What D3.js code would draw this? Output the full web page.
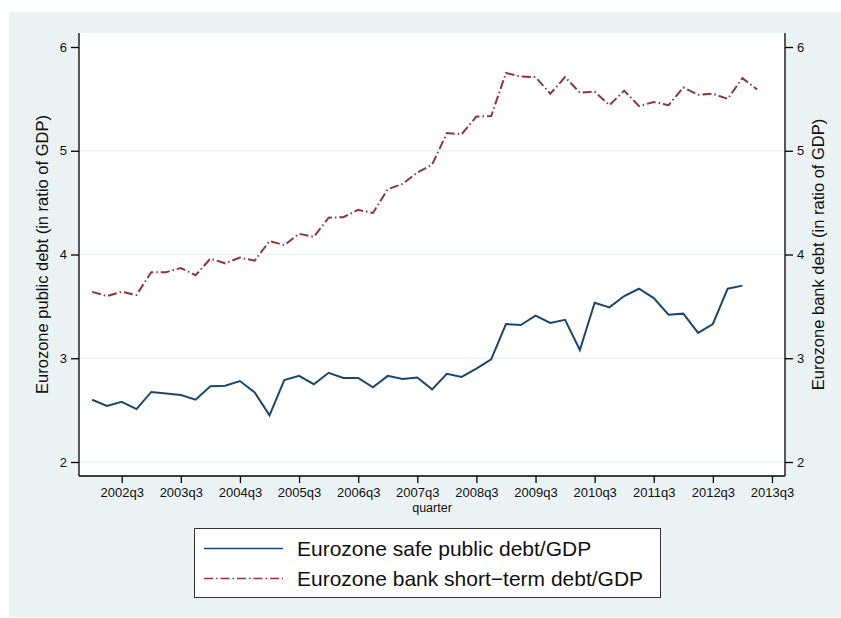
<!DOCTYPE html>
<html>
<head>
<meta charset="utf-8">
<title>Eurozone public and bank debt</title>
<style>
body { margin: 0; background: #fff; }
svg { display: block; font-family: "Liberation Sans", Arial, Helvetica, sans-serif; }
</style>
</head>
<body>
<div id="chart"></div>
<script src="https://cdn.jsdelivr.net/npm/d3@7"></script>
<script>
// quarters 2002q1 .. 2013q2
var quarters = ["2002q1","2002q2","2002q3","2002q4","2003q1","2003q2","2003q3","2003q4",
  "2004q1","2004q2","2004q3","2004q4","2005q1","2005q2","2005q3","2005q4",
  "2006q1","2006q2","2006q3","2006q4","2007q1","2007q2","2007q3","2007q4",
  "2008q1","2008q2","2008q3","2008q4","2009q1","2009q2","2009q3","2009q4",
  "2010q1","2010q2","2010q3","2010q4","2011q1","2011q2","2011q3","2011q4",
  "2012q1","2012q2","2012q3","2012q4","2013q1","2013q2"];

// safe public debt / GDP (stops at 2013q1)
var publicDebt = [2.60, 2.54, 2.58, 2.51, 2.675, 2.66, 2.645, 2.60,
  2.73, 2.735, 2.78, 2.67, 2.45, 2.79, 2.83, 2.75,
  2.86, 2.81, 2.81, 2.72, 2.83, 2.80, 2.815, 2.70,
  2.85, 2.82, 2.90, 2.99, 3.33, 3.32, 3.41, 3.34,
  3.37, 3.08, 3.535, 3.49, 3.60, 3.67, 3.58, 3.42,
  3.43, 3.245, 3.33, 3.67, 3.70];

// bank short-term debt / GDP
var bankDebt = [3.64, 3.60, 3.64, 3.61, 3.83, 3.83, 3.87, 3.80,
  3.96, 3.915, 3.97, 3.94, 4.13, 4.09, 4.20, 4.17,
  4.355, 4.36, 4.43, 4.40, 4.63, 4.68, 4.79, 4.865,
  5.17, 5.16, 5.33, 5.335, 5.75, 5.715, 5.71, 5.55,
  5.71, 5.56, 5.57, 5.44, 5.58, 5.43, 5.47, 5.44,
  5.61, 5.54, 5.55, 5.50, 5.70, 5.59];

var xTickLabels = ["2002q3","2003q3","2004q3","2005q3","2006q3","2007q3",
  "2008q3","2009q3","2010q3","2011q3","2012q3","2013q3"];
var yTicks = [2, 3, 4, 5, 6];

var seriesNames = ["Eurozone safe public debt/GDP", "Eurozone bank short\u2212term debt/GDP"];

var W = 841, H = 618;
var plot = { left: 79, right: 785, top: 33, bottom: 476 };

var svg = d3.select("#chart").append("svg")
  .attr("width", W)
  .attr("height", H);

// outer panel
svg.append("rect")
  .attr("x", 9).attr("y", 12)
  .attr("width", W - 9).attr("height", H - 13)
  .attr("fill", "#eaf2f3");

svg.append("rect")
  .attr("x", plot.left).attr("y", plot.top)
  .attr("width", plot.right - plot.left).attr("height", plot.bottom - plot.top)
  .attr("fill", "#fff");

// quarter index: 0 = 2002q1
function qIndex(label) {
  return (+label.slice(0, 4) - 2002) * 4 + (+label.slice(5) - 1);
}

var x = d3.scaleLinear().domain([-0.89, 46.88]).range([plot.left, plot.right]);
var y = d3.scaleLinear().domain([1.865, 6.135]).range([plot.bottom, plot.top]);

// grid
svg.append("g").selectAll("line")
  .data(yTicks.filter(function(d) { return d < 6; }))
  .enter().append("line")
  .attr("x1", plot.left).attr("x2", plot.right)
  .attr("y1", function(d) { return y(d); })
  .attr("y2", function(d) { return y(d); })
  .attr("stroke", "#eaf2f3")
  .attr("stroke-width", 1.5);

// axes
var fmt = function(d) { return d; };
var leftAxis = svg.append("g")
  .attr("transform", "translate(" + plot.left + ",0)")
  .call(d3.axisLeft(y).tickValues(yTicks).tickSize(8).tickPadding(4).tickFormat(fmt));
var rightAxis = svg.append("g")
  .attr("transform", "translate(" + plot.right + ",0)")
  .call(d3.axisRight(y).tickValues(yTicks).tickSize(8).tickPadding(4).tickFormat(fmt));
var xAxis = svg.append("g")
  .attr("transform", "translate(0," + plot.bottom + ")")
  .call(d3.axisBottom(x).tickValues(xTickLabels.map(qIndex)).tickSize(7).tickPadding(5)
    .tickFormat(function(d, i) { return xTickLabels[i]; }));

[leftAxis, rightAxis, xAxis].forEach(function(a) {
  a.select(".domain").attr("stroke", "#000").attr("stroke-width", 1.3)
    .attr("d", null);
  a.selectAll(".tick line").attr("stroke", "#000").attr("stroke-width", 1.3);
  a.selectAll(".tick text").attr("fill", "#111").style("font-size", "13px");
});
leftAxis.select(".domain").attr("d", "M0," + plot.top + "V" + plot.bottom);
rightAxis.select(".domain").attr("d", "M0," + plot.top + "V" + plot.bottom);
xAxis.select(".domain").attr("d", "M" + plot.left + ",0H" + plot.right);

// axis titles
svg.append("text")
  .attr("transform", "translate(47.5," + ((plot.top + plot.bottom) / 2) + ") rotate(-90)")
  .attr("text-anchor", "middle")
  .style("font-size", "16.5px").attr("fill", "#111")
  .text("Eurozone public debt (in ratio of GDP)");
svg.append("text")
  .attr("transform", "translate(824," + ((plot.top + plot.bottom) / 2) + ") rotate(-90)")
  .attr("text-anchor", "middle")
  .style("font-size", "16.5px").attr("fill", "#111")
  .text("Eurozone bank debt (in ratio of GDP)");
svg.append("text")
  .attr("x", (plot.left + plot.right) / 2).attr("y", 512)
  .attr("text-anchor", "middle")
  .style("font-size", "12.5px").attr("fill", "#111")
  .text("quarter");

// lines
var line = d3.line()
  .x(function(d, i) { return x(qIndex(quarters[i])); })
  .y(function(d) { return y(d); });

svg.append("path")
  .datum(bankDebt)
  .attr("d", line)
  .attr("fill", "none")
  .attr("stroke", "#90353b")
  .attr("stroke-width", 2)
  .attr("stroke-dasharray", "9,3,1.5,3");

svg.append("path")
  .datum(publicDebt)
  .attr("d", line)
  .attr("fill", "none")
  .attr("stroke", "#1a476f")
  .attr("stroke-width", 2);

// legend
var legend = svg.append("g");
legend.append("rect")
  .attr("x", 194.5).attr("y", 528.5)
  .attr("width", 466).attr("height", 69)
  .attr("fill", "#fff").attr("stroke", "#333").attr("stroke-width", 1);

var styles = [
  { color: "#1a476f", dash: null },
  { color: "#90353b", dash: "9,3,1.5,3" }
];
seriesNames.forEach(function(name, i) {
  var ly = 548.5 + i * 30;
  legend.append("line")
    .attr("x1", 204).attr("x2", 283)
    .attr("y1", ly).attr("y2", ly)
    .attr("stroke", styles[i].color)
    .attr("stroke-width", 1.5)
    .attr("stroke-dasharray", styles[i].dash);
  legend.append("text")
    .attr("x", 297).attr("y", ly + 7.5)
    .style("font-size", "21px").attr("fill", "#111")
    .text(name);
});
</script>
</body>
</html>
